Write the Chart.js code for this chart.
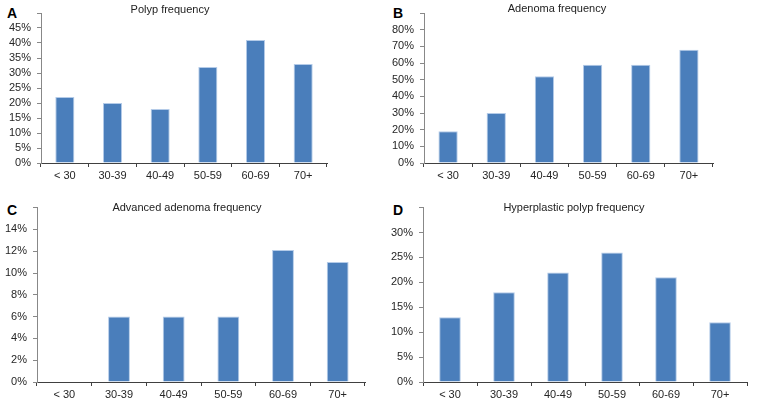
<!DOCTYPE html>
<html lang="en">
<head>
    <meta charset="UTF-8">
    <title>Polyp frequency by age group</title>
    <script src="https://cdn.jsdelivr.net/npm/chart.js"></script>
    <style>
        body {
            margin: 0;
            background: #ffffff;
        }
        #wrap {
            position: relative;
            width: 758px;
            height: 404px;
        }
        canvas {
            position: absolute;
        }
        .panel-letter {
            position: absolute;
            font-family: "Liberation Sans", Arial, sans-serif;
            font-weight: bold;
            font-size: 14px;
            line-height: 14px;
            color: #000;
        }
    </style>
</head>
<body>

<div id="wrap">
    <div class="panel-letter" style="left:7px; top:6px;">A</div>
    <div class="panel-letter" style="left:393px; top:6px;">B</div>
    <div class="panel-letter" style="left:7px; top:203px;">C</div>
    <div class="panel-letter" style="left:393px; top:203px;">D</div>

    <canvas id="chartA" width="380" height="195" style="left:0; top:0;"></canvas>
    <canvas id="chartB" width="378" height="195" style="left:380px; top:0;"></canvas>
    <canvas id="chartC" width="380" height="209" style="left:0; top:195px;"></canvas>
    <canvas id="chartD" width="378" height="209" style="left:380px; top:195px;"></canvas>
</div>

<script>
    // Age groups on the x axis
    const ageGroups = ['< 30', '30-39', '40-49', '50-59', '60-69', '70+'];

    // Frequencies (%) per age group, one array per panel
    const polypValues = [22, 20, 18, 32, 41, 33];
    const adenomaValues = [19, 30, 52, 59, 59, 68];
    const advancedValues = [0, 6, 6, 6, 12.1, 11];
    const hyperplasticValues = [13, 18, 22, 26, 21, 12];

    // Panel titles
    const titles = ['Polyp frequency', 'Adenoma frequency', 'Advanced adenoma frequency', 'Hyperplastic polyp frequency'];

    // Y axis ranges (max, step) per panel
    const yMax = [50, 90, 16, 35];
    const yStep = [5, 10, 2, 5];

    const fontFamily = '"Liberation Sans", Arial, sans-serif';

    // draws the panel title at a fixed spot in the canvas
    const titlePlugin = {
        id: 'panelTitle',
        afterDraw(chart, args, opts) {
            const c = chart.ctx;
            c.save();
            c.font = '11px ' + fontFamily;
            c.fillStyle = '#222';
            c.textAlign = 'center';
            c.textBaseline = 'middle';
            c.fillText(opts.text, opts.x, opts.y);
            c.restore();
        }
    };

    function makeChart(id, values, idx, box) {
        const canvas = document.getElementById(id);
        const max = yMax[idx];
        return new Chart(canvas, {
            type: 'bar',
            data: {
                labels: ageGroups,
                datasets: [{
                    data: values,
                    backgroundColor: '#4A7EBB',
                    borderColor: '#B4CBE8',
                    borderWidth: 1,
                    barPercentage: 0.4,
                    categoryPercentage: 1
                }]
            },
            options: {
                responsive: false,
                animation: false,
                layout: {
                    padding: { left: 0, top: box.top, right: canvas.width - box.right, bottom: 0 }
                },
                plugins: {
                    legend: { display: false },
                    tooltip: { enabled: false },
                    panelTitle: { text: titles[idx], x: box.titleX, y: box.titleY }
                },
                scales: {
                    x: {
                        grid: {
                            display: true,
                            drawOnChartArea: false,
                            drawTicks: true,
                            tickLength: 4,
                            color: '#404040'
                        },
                        border: { display: true, color: '#404040', width: 1 },
                        ticks: {
                            color: '#262626',
                            padding: 2,
                            maxRotation: 0,
                            autoSkip: false,
                            font: { family: fontFamily, size: 11 }
                        },
                        afterFit(scale) { scale.height = canvas.height - box.bottom; }
                    },
                    y: {
                        min: 0,
                        max: max,
                        grid: {
                            display: true,
                            drawOnChartArea: false,
                            drawTicks: true,
                            tickLength: 4,
                            color: '#888'
                        },
                        border: { display: true, color: '#888', width: 1 },
                        ticks: {
                            stepSize: yStep[idx],
                            autoSkip: false,
                            color: '#262626',
                            padding: 6,
                            font: { family: fontFamily, size: 11 },
                            callback: (v) => v === max ? '' : v + '%'
                        },
                        afterFit(scale) { scale.width = box.left; }
                    }
                }
            },
            plugins: [titlePlugin]
        });
    }

    makeChart('chartA', polypValues, 0, { left: 41, right: 327, top: 13, bottom: 163, titleX: 170, titleY: 10 });
    makeChart('chartB', adenomaValues, 1, { left: 44, right: 333, top: 13, bottom: 163, titleX: 177, titleY: 9 });
    makeChart('chartC', advancedValues, 2, { left: 37, right: 365, top: 10, bottom: 187, titleX: 187, titleY: 13 });
    makeChart('chartD', hyperplasticValues, 3, { left: 43, right: 367, top: 10, bottom: 187, titleX: 194, titleY: 13 });
</script>
</body>
</html>
